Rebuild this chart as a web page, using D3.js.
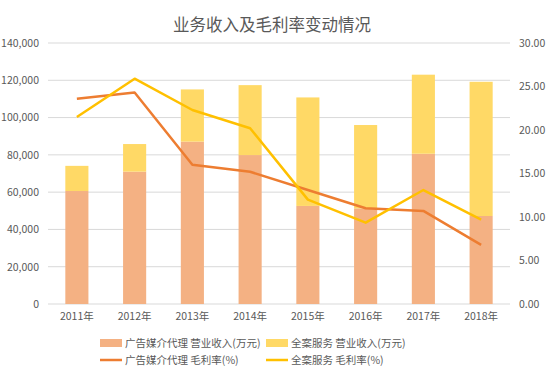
<!DOCTYPE html>
<html>
<head>
<meta charset="utf-8">
<script src="https://cdn.jsdelivr.net/npm/d3@7"></script>
<style>
  body { margin: 0; background: #fff; }
  svg text { font-family: "Noto Sans CJK SC", "Noto Sans", sans-serif; fill: #595959; }
</style>
</head>
<body>
<svg id="chart" width="550" height="375"></svg>
<script>
const years = ['2011年', '2012年', '2013年', '2014年', '2015年', '2016年', '2017年', '2018年'];
// 营业收入(万元)
const adRevenue = [60600, 71000, 87100, 79900, 52600, 51300, 80600, 47200];
const fullRevenue = [13500, 14800, 28000, 37500, 58200, 44700, 42400, 72000];
// 毛利率(%)
const adMargin = [23.6, 24.3, 16.0, 15.2, 13.1, 11.0, 10.7, 6.8];
const fullMargin = [21.5, 25.9, 22.3, 20.2, 12.0, 9.35, 13.1, 9.7];

const leftTicks = [0, 20000, 40000, 60000, 80000, 100000, 120000, 140000];
const rightTicks = [0, 5, 10, 15, 20, 25, 30];

const colors = {
  adBar: '#F4B183',
  fullBar: '#FFD966',
  adLine: '#ED7D31',
  fullLine: '#FFC000'
};

const margin = { top: 43, right: 40, bottom: 71, left: 48 },
      width = 550 - margin.left - margin.right,
      height = 375 - margin.top - margin.bottom;

const svg = d3.select('#chart');

// title
svg.append('text')
  .attr('x', 272)
  .attr('y', 31)
  .attr('text-anchor', 'middle')
  .style('font-size', '16.5px')
  .text('业务收入及毛利率变动情况');

const g = svg.append('g')
  .attr('transform', `translate(${margin.left},${margin.top})`);

const xScale = d3.scaleBand()
  .domain(years)
  .range([0, width])
  .paddingInner(0.6)
  .paddingOuter(0.3);

const yLeft = d3.scaleLinear().domain([0, 140000]).range([height, 0]);
const yRight = d3.scaleLinear().domain([0, 30]).range([height, 0]);

// grid lines
g.append('g')
  .selectAll('line')
  .data(leftTicks)
  .enter().append('line')
  .attr('x1', 0)
  .attr('x2', width)
  .attr('y1', d => yLeft(d))
  .attr('y2', d => yLeft(d))
  .attr('stroke', '#D9D9D9')
  .attr('stroke-width', 1);

// left axis
const leftAxis = g.append('g')
  .call(d3.axisLeft(yLeft).tickValues(leftTicks).tickSize(0).tickPadding(9).tickFormat(d3.format(',')));
leftAxis.select('.domain').remove();
leftAxis.selectAll('text').style('font-size', '10.5px').style('fill', '#595959');

// right axis
const rightAxis = g.append('g')
  .attr('transform', `translate(${width},0)`)
  .call(d3.axisRight(yRight).tickValues(rightTicks).tickSize(0).tickPadding(9).tickFormat(d3.format('.2f')));
rightAxis.select('.domain').remove();
rightAxis.selectAll('text').style('font-size', '10.5px').style('fill', '#595959');

// bottom axis
const bottomAxis = g.append('g')
  .attr('transform', `translate(0,${height})`)
  .call(d3.axisBottom(xScale).tickSize(0).tickPadding(9));
bottomAxis.select('.domain').remove();
bottomAxis.selectAll('text').style('font-size', '10.5px').style('fill', '#595959');

// stacked bars
const stackData = years.map((y, i) => ({ year: y, ad: adRevenue[i], full: fullRevenue[i] }));
const series = d3.stack().keys(['ad', 'full'])(stackData);
const barColor = { ad: colors.adBar, full: colors.fullBar };

g.selectAll('.layer')
  .data(series)
  .enter().append('g')
  .attr('class', 'layer')
  .attr('fill', d => barColor[d.key])
  .selectAll('rect')
  .data(d => d)
  .enter().append('rect')
  .attr('x', d => xScale(d.data.year))
  .attr('width', xScale.bandwidth())
  .attr('y', d => yLeft(d[1]))
  .attr('height', d => yLeft(d[0]) - yLeft(d[1]));

// margin lines
const line = d3.line()
  .x((d, i) => xScale(years[i]) + xScale.bandwidth() / 2)
  .y(d => yRight(d));

g.append('path')
  .datum(adMargin)
  .attr('fill', 'none')
  .attr('stroke', colors.adLine)
  .attr('stroke-width', 2.5)
  .attr('stroke-linejoin', 'round')
  .attr('d', line);

g.append('path')
  .datum(fullMargin)
  .attr('fill', 'none')
  .attr('stroke', colors.fullLine)
  .attr('stroke-width', 2.5)
  .attr('stroke-linejoin', 'round')
  .attr('d', line);

// legend
const legendItems = [
  { label: '广告媒介代理 营业收入(万元)', color: colors.adBar, type: 'rect', x: 100, y: 343 },
  { label: '全案服务 营业收入(万元)', color: colors.fullBar, type: 'rect', x: 266, y: 343 },
  { label: '广告媒介代理 毛利率(%)', color: colors.adLine, type: 'line', x: 100, y: 360 },
  { label: '全案服务 毛利率(%)', color: colors.fullLine, type: 'line', x: 266, y: 360 }
];

const legend = svg.append('g').attr('class', 'legend');
const items = legend.selectAll('g')
  .data(legendItems)
  .enter().append('g')
  .attr('transform', d => `translate(${d.x},${d.y})`);

items.filter(d => d.type === 'rect').append('rect')
  .attr('x', 0)
  .attr('y', -4)
  .attr('width', 22)
  .attr('height', 8)
  .attr('fill', d => d.color);

items.filter(d => d.type === 'line').append('line')
  .attr('x1', 0)
  .attr('x2', 22)
  .attr('y1', 0)
  .attr('y2', 0)
  .attr('stroke', d => d.color)
  .attr('stroke-width', 2.5);

items.append('text')
  .attr('x', 25)
  .attr('y', 0)
  .attr('dy', '0.35em')
  .style('font-size', '10.5px')
  .text(d => d.label);
</script>
</body>
</html>
